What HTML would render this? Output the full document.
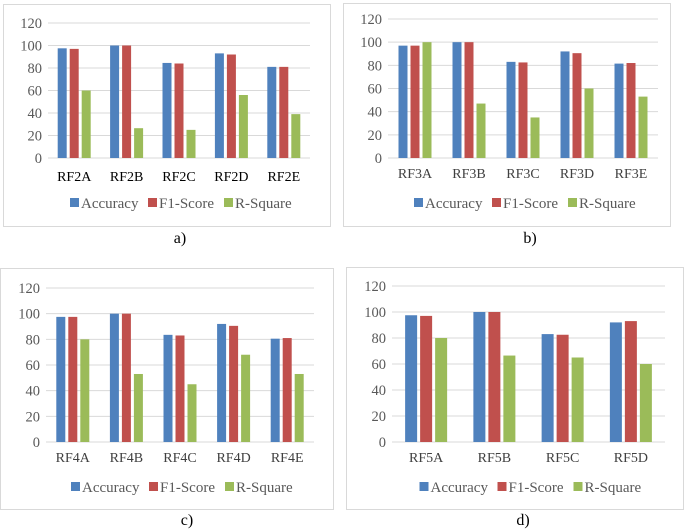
<!DOCTYPE html>
<html><head><meta charset="utf-8">
<style>
html,body{margin:0;padding:0;background:#fff;}
svg{display:block;font-family:"Liberation Serif",serif;}
</style></head>
<body>
<svg id="chart" width="685" height="529" viewBox="0 0 685 529"></svg>
<script>
const catsA = ["RF2A","RF2B","RF2C","RF2D","RF2E"];
const accA = [97.5,100,84.5,93,81];
const f1A = [97,100,84,92,81];
const r2A = [60,26.5,25,56,39];
const catsB = ["RF3A","RF3B","RF3C","RF3D","RF3E"];
const accB = [97,100,83,92,81.5];
const f1B = [97,100,82.5,90.5,82];
const r2B = [100,47,35,60,53];
const catsC = ["RF4A","RF4B","RF4C","RF4D","RF4E"];
const accC = [97.5,100,83.5,92,80.5];
const f1C = [97.5,100,83,90.5,81];
const r2C = [80,53,45,68,53];
const catsD = ["RF5A","RF5B","RF5C","RF5D"];
const accD = [97.5,100,83,92];
const f1D = [97,100,82.5,93];
const r2D = [80,66.5,65,60];
const ticks = [0,20,40,60,80,100,120];
const seriesNames = ["Accuracy","F1-Score","R-Square"];
const colors = ["#4f81bd","#c0504d","#9bbb59"];

const NS = "http://www.w3.org/2000/svg";
const svg = document.getElementById("chart");
function mk(tag, attrs, parent){
  const e = document.createElementNS(NS, tag);
  for (const k in attrs) e.setAttribute(k, attrs[k]);
  (parent||svg).appendChild(e);
  return e;
}

function panel(id, box, plot, cats, series, caption, capX, capY, barW, gap, legendY, catY, catColor){
  const g = mk("g", {});
  
  
  const border = mk("rect", {x:box[0]+0.5, y:box[1]+0.5, width:box[2]-box[0], height:box[3]-box[1], fill:"#fff", stroke:"#d9d9d9", "stroke-width":1}, g);
  
  
  const [x0, x1, yTop, yBot] = plot;
  const yScale = v => yBot - (v/120)*(yBot - yTop);
  const step = (x1 - x0)/cats.length;
  const xCenter = i => x0 + step*(i + 0.5);
  ticks.forEach(t => {
    const y = yScale(t);
    const l = mk("line", {x1:x0, x2:x1, y1:y, y2:y, stroke:"#d9d9d9", "stroke-width":1}, g);
    
    
    const tx = mk("text", {x:x0-6, y:y+5, "text-anchor":"end", "font-size":"14.5", fill:"#595959"}, g);
    tx.textContent = t;
    
    
  });
  cats.forEach((c, i) => {
    const cx = xCenter(i);
    const total = series.length*barW + (series.length-1)*gap;
    series.forEach((s, k) => {
      const bx = cx - total/2 + k*(barW+gap);
      const y = yScale(s[i]);
      const r = mk("rect", {x:bx, y:y, width:barW, height:yBot - y, fill:colors[k]}, g);
      
      
    });
    const t = mk("text", {x:cx, y:catY, "text-anchor":"middle", "font-size":"14", fill:catColor}, g);
    t.textContent = c;
    
    
  });
  const midX = (x0 + x1)/2;
  const widths = [66, 64, 64];
  const totalW = widths.reduce((a,b)=>a+b,0) + 24;
  let lx = midX - totalW/2;
  seriesNames.forEach((n, k) => {
    const lg = mk("g", {}, g);
    
    
    mk("rect", {x:lx, y:legendY-10, width:9, height:9, fill:colors[k]}, lg);
    const t = mk("text", {x:lx+11, y:legendY, "font-size":"15", fill:"#595959"}, lg);
    t.textContent = n;
    lx += widths[k] + 12;
  });
  const cap = mk("text", {x:capX, y:capY, "text-anchor":"middle", "font-size":"16", fill:"#000"}, svg);
  cap.textContent = caption;
  
  
}

panel("a", [3,4,330,226], [48,310,23,158], catsA, [accA,f1A,r2A], "a)", 180, 243, 9, 3, 208, 181, "#000");
panel("b", [343,3,670,226], [388,658,19,158], catsB, [accB,f1B,r2B], "b)", 530, 243, 9, 3, 208, 178, "#404040");
panel("c", [0,268,333,509], [46,314,288,442], catsC, [accC,f1C,r2C], "c)", 187, 525, 9, 3, 492, 462, "#404040");
panel("d", [346,267,683,509], [392,665,286,442], catsD, [accD,f1D,r2D], "d)", 523, 525, 12, 3, 492, 462, "#404040");
</script>
</body></html>
